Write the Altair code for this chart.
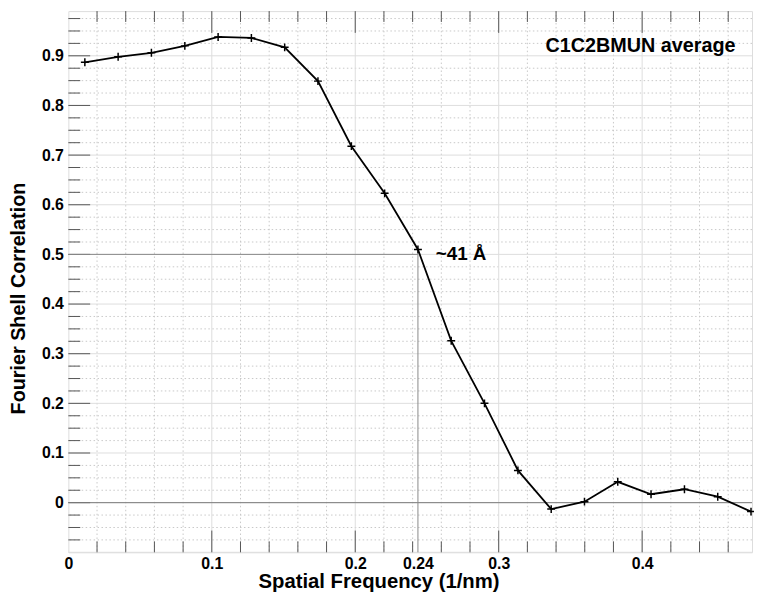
import altair as alt
import pandas as pd

# Fourier shell correlation curve
freq = [0.0115, 0.0347, 0.0579, 0.0812, 0.1044, 0.1276, 0.1508, 0.1740, 0.1973,
        0.2205, 0.2437, 0.2669, 0.2901, 0.3134, 0.3366, 0.3598, 0.3830, 0.4062,
        0.4295, 0.4527, 0.4759]
fsc = [0.887, 0.898, 0.906, 0.920, 0.938, 0.936, 0.917, 0.849, 0.718,
       0.623, 0.510, 0.326, 0.200, 0.065, -0.013, 0.002, 0.042, 0.017,
       0.027, 0.012, -0.018]

# resolution cut-off
cut_freq = [0.2437]
cut_fsc = [0.5]
cut_label = ["~41 Å"]
zero_level = [0.0]

# tick positions / labels
x_label_values = [0, 0.1, 0.2, 0.2437, 0.3, 0.4]
y_label_values = [0, 0.1, 0.2, 0.3, 0.4, 0.5, 0.6, 0.7, 0.8, 0.9]
x_major = [0.1, 0.2, 0.3, 0.4]
x_minor = [0.02, 0.04, 0.06, 0.08, 0.12, 0.14, 0.16, 0.18, 0.22, 0.24, 0.26,
           0.28, 0.32, 0.34, 0.36, 0.38, 0.42, 0.44, 0.46]
y_major = [-0.1, 0.0, 0.1, 0.2, 0.3, 0.4, 0.5, 0.6, 0.7, 0.8, 0.9]
y_minor = [-0.075, -0.05, -0.025, 0.025, 0.05, 0.075, 0.125, 0.15, 0.175,
           0.225, 0.25, 0.275, 0.325, 0.35, 0.375, 0.425, 0.45, 0.475,
           0.525, 0.55, 0.575, 0.625, 0.65, 0.675, 0.725, 0.75, 0.775,
           0.825, 0.85, 0.875, 0.925, 0.95, 0.975]

title_text = ["C1C2BMUN average"]

X_MIN, X_MAX = 0.0, 0.4766
Y_MIN, Y_MAX = -0.1, 0.99
FONT = "Liberation Sans"

xs = alt.Scale(domain=[X_MIN, X_MAX], nice=False, zero=False)
ys = alt.Scale(domain=[Y_MIN, Y_MAX], nice=False, zero=False)

x_axis = alt.Axis(
    values=x_label_values, labelExpr="format(datum.value, '.2~f')",
    ticks=False, domain=False, grid=False, labelFlush=False,
    labelFont=FONT, labelFontWeight="bold", labelFontSize=16, labelColor="black",
    labelPadding=3, title="Spatial Frequency (1/nm)", titleFont=FONT,
    titleFontWeight="bold", titleFontSize=20.5, titleColor="black",
    titleX=313.5, titleY=36, titleBaseline="alphabetic", titleAlign="center")
y_axis = alt.Axis(
    values=y_label_values, labelExpr="format(datum.value, '.2~f')",
    ticks=False, domain=False, grid=False, labelFlush=False,
    labelFont=FONT, labelFontWeight="bold", labelFontSize=16, labelColor="black",
    labelPadding=5, title="Fourier Shell Correlation", titleFont=FONT,
    titleFontWeight="bold", titleFontSize=20, titleColor="black",
    titleX=-44, titleY=290, titleAngle=270, titleBaseline="alphabetic",
    titleAlign="center")


def X(f):
    return alt.X(f, type="quantitative", scale=xs, axis=x_axis)


def Y(f):
    return alt.Y(f, type="quantitative", scale=ys, axis=y_axis)


curve = pd.DataFrame({"freq": freq, "fsc": fsc})
cut = pd.DataFrame({"f": cut_freq, "c": cut_fsc, "label": cut_label})

xt = pd.DataFrame({"v": x_major + x_minor,
                   "kind": ["major"] * len(x_major) + ["minor"] * len(x_minor)})
yt = pd.DataFrame({"v": y_major + y_minor,
                   "kind": ["major"] * len(y_major) + ["minor"] * len(y_minor)})

# grid
xgrid_major = alt.Chart(xt).transform_filter("datum.kind == 'major'").mark_rule(
    color="#dedede", strokeWidth=1).encode(x=X("v"))
xgrid_minor = alt.Chart(xt).transform_filter("datum.kind == 'minor'").mark_rule(
    color="#c8c8c8", strokeWidth=1, strokeDash=[1.5, 2.5]).encode(x=X("v"))
ygrid_major = alt.Chart(yt).transform_filter("datum.kind == 'major'").mark_rule(
    color="#dedede", strokeWidth=1).encode(y=Y("v"))
ygrid_minor = alt.Chart(yt).transform_filter("datum.kind == 'minor'").mark_rule(
    color="#c8c8c8", strokeWidth=1, strokeDash=[1.5, 2.5]).encode(y=Y("v"))

# inward ticks (lengths in data units: ~22px / ~11px)
xticks_bottom = alt.Chart(xt).transform_calculate(
    y0=str(Y_MIN), y1=f"{Y_MIN} + (datum.kind == 'major' ? 0.0438 : 0.0219)"
).mark_rule(color="#555555", strokeWidth=1).encode(x=X("v"), y=Y("y0:Q"), y2="y1:Q")
xticks_top = alt.Chart(xt).transform_calculate(
    y0=str(Y_MAX), y1=f"{Y_MAX} - (datum.kind == 'major' ? 0.0438 : 0.0219)"
).mark_rule(color="#555555", strokeWidth=1).encode(x=X("v"), y=Y("y0:Q"), y2="y1:Q")
yticks_left = alt.Chart(yt).transform_filter("datum.v > -0.1").transform_calculate(
    x0=str(X_MIN), x1=f"{X_MIN} + (datum.kind == 'major' ? 0.0152 : 0.0083)"
).mark_rule(color="#555555", strokeWidth=1).encode(y=Y("v"), x=X("x0:Q"), x2="x1:Q")

# reference lines
zero_line = alt.Chart(pd.DataFrame({"z": zero_level})).mark_rule(
    color="#7a7a7a", strokeWidth=1).encode(y=Y("z"))
hline = alt.Chart(cut).transform_calculate(x0=str(X_MIN)).mark_rule(
    color="#8a8a8a", strokeWidth=1).encode(y=Y("c"), x=X("x0:Q"), x2="f:Q")
vline = alt.Chart(cut).transform_calculate(y0=str(Y_MIN)).mark_rule(
    color="#8a8a8a", strokeWidth=1).encode(x=X("f"), y=Y("y0:Q"), y2="c:Q")

# main curve
line = alt.Chart(curve).mark_line(color="black", strokeWidth=1.8).encode(
    x=X("freq"), y=Y("fsc"))
points = alt.Chart(curve).mark_point(
    shape="M-1,0L1,0M0,-1L0,1", size=64, filled=False, color="black",
    strokeWidth=1.5, opacity=1).encode(x=X("freq"), y=Y("fsc"))

cut_text = alt.Chart(cut).transform_calculate(tx="datum.f + 0.0124").mark_text(
    font=FONT, fontWeight="bold", fontSize=19, align="left", baseline="middle",
    color="black").encode(x=X("tx:Q"), y=Y("c"), text="label:N")

name_text = alt.Chart(pd.DataFrame({"t": title_text})).transform_calculate(
    tx="0.4651", ty="0.92").mark_text(
    font=FONT, fontWeight="bold", fontSize=20, align="right", baseline="middle",
    color="black").encode(x=X("tx:Q"), y=Y("ty:Q"), text="t:N")

chart = alt.layer(
    xgrid_minor, ygrid_minor, xgrid_major, ygrid_major,
    xticks_bottom, xticks_top, yticks_left,
    zero_line, hline, vline,
    line, points, cut_text, name_text,
).properties(
    width=691, height=547,
    autosize=alt.AutoSizeParams(type="none"),
    padding={"left": 61, "top": 0, "right": 2, "bottom": 40},
).configure_view(stroke="#333333", strokeWidth=1.5).configure(background="white")

chart.save("out.html", embed_options={"renderer": "svg", "actions": False})
